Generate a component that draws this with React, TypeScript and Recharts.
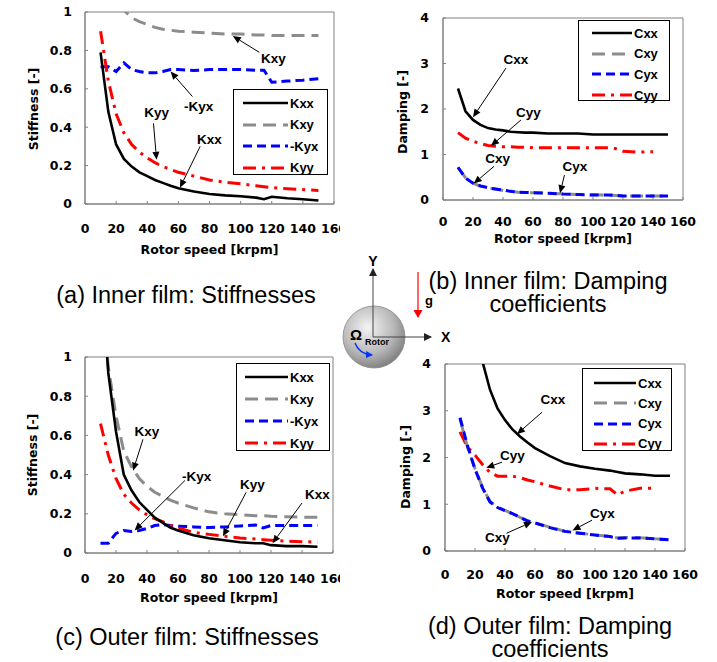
import React from 'react';
import { LineChart, Line, XAxis, YAxis, ReferenceArea, ReferenceLine, ReferenceDot, Legend } from 'recharts';

// rotor speed [krpm], shared by every panel
const speeds = [10, 15, 20, 25, 30, 35, 40, 45, 50, 55, 60, 70, 80, 90, 100, 110, 115, 120, 130, 140, 150];
const xTicks = [0, 20, 40, 60, 80, 100, 120, 140, 160];
const stiffTicks = [0, 0.2, 0.4, 0.6, 0.8, 1];
const dampTicks = [0, 1, 2, 3, 4];

// (a) inner film stiffnesses
const innerKxx = [0.79, 0.48, 0.31, 0.235, 0.195, 0.165, 0.145, 0.125, 0.11, 0.095, 0.082, 0.065, 0.052, 0.045, 0.04, 0.033, 0.025, 0.038, 0.03, 0.025, 0.018];
const innerKxy = [1.22, 1.13, 1.06, 1.01, 0.97, 0.95, 0.935, 0.92, 0.91, 0.905, 0.9, 0.895, 0.89, 0.885, 0.885, 0.88, 0.88, 0.878, 0.878, 0.878, 0.878];
const innerNegKyx = [0.715, 0.715, 0.69, 0.735, 0.7, 0.69, 0.683, 0.683, 0.69, 0.7, 0.7, 0.695, 0.7, 0.7, 0.7, 0.697, 0.697, 0.634, 0.64, 0.645, 0.653];
const innerKyy = [0.9, 0.64, 0.47, 0.37, 0.31, 0.27, 0.24, 0.215, 0.195, 0.18, 0.165, 0.145, 0.125, 0.113, 0.105, 0.095, 0.09, 0.085, 0.08, 0.075, 0.07];

// (b) inner film damping
const innerCxx = [2.45, 1.95, 1.76, 1.65, 1.58, 1.55, 1.53, 1.5, 1.49, 1.48, 1.48, 1.46, 1.46, 1.46, 1.44, 1.44, 1.44, 1.44, 1.44, 1.44, 1.44];
const innerCxy = [0.71, 0.49, 0.37, 0.3, 0.27, 0.24, 0.21, 0.19, 0.17, 0.165, 0.16, 0.15, 0.13, 0.12, 0.115, 0.11, 0.1, 0.09, 0.09, 0.09, 0.09];
const innerCyx = [0.72, 0.48, 0.37, 0.31, 0.27, 0.24, 0.22, 0.19, 0.17, 0.165, 0.16, 0.15, 0.13, 0.12, 0.11, 0.11, 0.1, 0.09, 0.09, 0.09, 0.09];
const innerCyy = [1.48, 1.36, 1.29, 1.24, 1.2, 1.18, 1.17, 1.17, 1.16, 1.16, 1.15, 1.15, 1.15, 1.15, 1.15, 1.15, 1.13, 1.07, 1.05, 1.06, null];

// (c) outer film stiffnesses
const outerKxx = [1.5, 0.92, 0.62, 0.4, 0.32, 0.26, 0.22, 0.18, 0.155, 0.13, 0.115, 0.09, 0.075, 0.065, 0.055, 0.05, 0.05, 0.04, 0.035, 0.035, 0.032];
const outerKxy = [1.4, 0.95, 0.7, 0.52, 0.44, 0.38, 0.34, 0.31, 0.29, 0.27, 0.255, 0.23, 0.21, 0.2, 0.195, 0.19, 0.19, 0.187, 0.185, 0.183, 0.182];
const outerNegKyx = [0.05, 0.05, 0.1, 0.115, 0.11, 0.115, 0.125, 0.14, 0.145, 0.14, 0.137, 0.133, 0.13, 0.133, 0.138, 0.143, 0.128, 0.14, 0.14, 0.14, 0.14];
const outerKyy = [0.66, 0.5, 0.38, 0.3, 0.255, 0.22, 0.195, 0.175, 0.16, 0.14, 0.128, 0.105, 0.095, 0.085, 0.077, 0.071, 0.068, 0.065, 0.06, 0.058, 0.055];

// (d) outer film damping
const outerCxx = [6.0, 5.2, 4.6, 4.05, 3.45, 3.05, 2.8, 2.6, 2.45, 2.32, 2.2, 2.03, 1.88, 1.81, 1.76, 1.72, 1.69, 1.66, 1.64, 1.61, 1.61];
const outerCxy = [2.83, 2.22, 1.76, 1.36, 1.06, 0.94, 0.87, 0.8, 0.72, 0.65, 0.6, 0.51, 0.42, 0.38, 0.345, 0.31, 0.28, 0.29, 0.285, 0.26, 0.245];
const outerCyx = [2.85, 2.25, 1.75, 1.35, 1.05, 0.93, 0.86, 0.8, 0.72, 0.64, 0.6, 0.5, 0.42, 0.38, 0.34, 0.31, 0.27, 0.28, 0.28, 0.26, 0.24];
const outerCyy = [2.55, 2.22, 2.05, 1.85, 1.68, 1.6, 1.6, 1.6, 1.57, 1.52, 1.48, 1.39, 1.31, 1.31, 1.34, 1.33, 1.2, 1.28, 1.34, 1.34, null];

type Note = { text: string; tx: number; ty: number; x1: number; y1: number; x2: number; y2: number };

const innerStiffNotes: Note[] = [
  { text: 'Kxy', tx: 121, ty: 0.76, x1: 112, y1: 0.79, x2: 95, y2: 0.875 },
  { text: '-Kyx', tx: 73, ty: 0.51, x1: 69, y1: 0.56, x2: 55, y2: 0.69 },
  { text: 'Kyy', tx: 46, ty: 0.475, x1: 44, y1: 0.42, x2: 46, y2: 0.23 },
  { text: 'Kxx', tx: 80, ty: 0.335, x1: 74, y1: 0.3, x2: 61, y2: 0.085 },
];
const innerDampNotes: Note[] = [
  { text: 'Cxx', tx: 48.6, ty: 3.08, x1: 42, y1: 2.9, x2: 20, y2: 1.82 },
  { text: 'Cyy', tx: 57, ty: 1.93, x1: 52, y1: 1.76, x2: 32, y2: 1.19 },
  { text: 'Cxy', tx: 36.5, ty: 0.92, x1: 34, y1: 0.74, x2: 20.5, y2: 0.36 },
  { text: 'Cyx', tx: 88, ty: 0.73, x1: 81, y1: 0.55, x2: 78, y2: 0.15 },
];
const outerStiffNotes: Note[] = [
  { text: 'Kxy', tx: 40, ty: 0.62, x1: 37.4, y1: 0.58, x2: 31, y2: 0.42 },
  { text: '-Kyx', tx: 72, ty: 0.39, x1: 64.5, y1: 0.37, x2: 32, y2: 0.115 },
  { text: 'Kyy', tx: 108, ty: 0.35, x1: 104, y1: 0.31, x2: 89, y2: 0.085 },
  { text: 'Kxx', tx: 150, ty: 0.3, x1: 140, y1: 0.255, x2: 121, y2: 0.05 },
];
const outerDampNotes: Note[] = [
  { text: 'Cxx', tx: 72, ty: 3.23, x1: 64.7, y1: 2.97, x2: 48, y2: 2.5 },
  { text: 'Cyy', tx: 45, ty: 2.05, x1: 38, y1: 1.9, x2: 27.5, y2: 1.78 },
  { text: 'Cyx', tx: 105, ty: 0.81, x1: 98, y1: 0.66, x2: 85, y2: 0.44 },
  { text: 'Cxy', tx: 35, ty: 0.28, x1: 41, y1: 0.38, x2: 58, y2: 0.62 },
];

const LINE_STYLES: Record<string, { color: string; dash?: string; width: number }> = {
  xx: { color: '#000000', width: 2.6 },
  xy: { color: '#8c8c8c', dash: '13 7', width: 3 },
  yx: { color: '#0000ff', dash: '9 5', width: 3 },
  yy: { color: '#ff0000', dash: '13 6 3 6', width: 3 },
};

const buildRows = (cols: Record<string, (number | null)[]>) =>
  speeds.map((s, i) => {
    const row: any = { speed: s };
    Object.keys(cols).forEach((k) => (row[k] = cols[k][i]));
    return row;
  });

const tickFont = { fontFamily: '"DejaVu Sans", sans-serif', fontWeight: 700, fontSize: 12.5, fill: '#000' };
const labelFamily = '"Liberation Sans", Arial, sans-serif';

const arrowShape = (p: any) => {
  const { x1, y1, x2, y2 } = p;
  const a = Math.atan2(y2 - y1, x2 - x1);
  const L = 8;
  const W = 3.5;
  const bx = x2 - L * Math.cos(a);
  const by = y2 - L * Math.sin(a);
  const pts = `${x2},${y2} ${bx - W * Math.sin(a)},${by + W * Math.cos(a)} ${bx + W * Math.sin(a)},${by - W * Math.cos(a)}`;
  return (
    <g>
      <line x1={x1} y1={y1} x2={bx} y2={by} stroke="#000" strokeWidth={1} />
      <polygon points={pts} fill="#000" />
    </g>
  );
};

type LegendCfg = { left: number; top: number; width: number; height: number; lineStart: number; lineW: number; first: number; row: number };
type Item = { key: string; name: string; style: string };

const LegendBox = ({ cfg, items }: { cfg: LegendCfg; items: Item[] }) => (
  <div style={{ position: 'relative', boxSizing: 'border-box', width: cfg.width, height: cfg.height, border: '1px solid #000', background: '#fff' }}>
    {items.map((it, i) => {
      const st = LINE_STYLES[it.style];
      return (
        <div key={it.key} style={{ position: 'absolute', left: cfg.lineStart, top: cfg.first + i * cfg.row - 9, height: 18, display: 'flex', alignItems: 'center', whiteSpace: 'nowrap' }}>
          <svg width={cfg.lineW} height={8} style={{ display: 'block' }}>
            <line x1={0} y1={4} x2={cfg.lineW} y2={4} stroke={st.color} strokeWidth={st.width} strokeDasharray={st.dash} />
          </svg>
          <span style={{ marginLeft: 2, fontFamily: labelFamily, fontWeight: 700, fontSize: 13, color: '#000' }}>{it.name}</span>
        </div>
      );
    })}
  </div>
);

type PanelProps = {
  left: number; top: number; boxW: number; boxH: number; chartW: number;
  margin: { top: number; right: number; left: number; bottom: number };
  plotH: number; yW: number; xH: number;
  xTickMargin: number; yTickMargin: number;
  xTitleDy: number; yTitle: string; yTitleX: number; yTitleY: number;
  yMax: number; yTicks: number[];
  rows: any[]; draw: Item[]; legendItems: Item[]; notes: Note[]; legend: LegendCfg;
};

const Panel = (p: PanelProps) => {
  const chartH = p.margin.top + p.plotH + p.xH + p.margin.bottom;
  return (
    <div style={{ position: 'absolute', left: p.left, top: p.top, width: p.boxW, height: p.boxH, overflow: 'hidden' }}>
      <LineChart width={p.chartW} height={chartH} data={p.rows} margin={p.margin}>
        <XAxis
          dataKey="speed"
          type="number"
          domain={[0, 160]}
          ticks={xTicks}
          interval={0}
          height={p.xH}
          tick={tickFont}
          tickSize={-3}
          tickMargin={p.xTickMargin}
          axisLine={{ stroke: '#808080' }}
          tickLine={{ stroke: '#808080' }}
          label={{
            value: 'Rotor speed [krpm]',
            content: (lp: any) => {
              const vb = lp.viewBox || { x: p.yW, y: p.margin.top + p.plotH, width: p.chartW - p.yW - p.margin.right };
              return (
                <text x={vb.x + vb.width / 2} y={vb.y + p.xTitleDy} textAnchor="middle" style={{ ...tickFont }}>
                  Rotor speed  [krpm]
                </text>
              );
            },
          }}
        />
        <YAxis
          type="number"
          domain={[0, p.yMax]}
          ticks={p.yTicks}
          interval={0}
          width={p.yW}
          allowDataOverflow
          tick={tickFont}
          tickSize={-3}
          tickMargin={p.yTickMargin}
          axisLine={{ stroke: '#808080' }}
          tickLine={{ stroke: '#808080' }}
          label={{
            value: p.yTitle,
            content: () => (
              <text
                x={p.yTitleX}
                y={p.yTitleY}
                textAnchor="middle"
                dominantBaseline="central"
                transform={`rotate(-90, ${p.yTitleX}, ${p.yTitleY})`}
                style={{ ...tickFont }}
              >
                {p.yTitle}
              </text>
            ),
          }}
        />
        <ReferenceArea x1={0} x2={160} y1={0} y2={p.yMax} fill="none" fillOpacity={0} stroke="#808080" strokeWidth={1} />
        {p.draw.map((s) => {
          const st = LINE_STYLES[s.style];
          return (
            <Line
              key={s.key}
              type="linear"
              dataKey={s.key}
              name={s.name}
              stroke={st.color}
              strokeWidth={st.width}
              strokeDasharray={st.dash}
              dot={false}
              activeDot={false}
              isAnimationActive={false}
            />
          );
        })}
        {p.notes.map((n, i) => (
          <ReferenceLine
            key={`a${i}`}
            segment={[{ x: n.x1, y: n.y1 }, { x: n.x2, y: n.y2 }]}
            ifOverflow="visible"
            shape={arrowShape}
          />
        ))}
        {p.notes.map((n, i) => (
          <ReferenceDot
            key={`t${i}`}
            x={n.tx}
            y={n.ty}
            r={0}
            ifOverflow="visible"
            shape={(dp: any) => (
              <text x={dp.cx} y={dp.cy} textAnchor="middle" dominantBaseline="central" fontFamily={labelFamily} fontWeight={700} fontSize={13.5} fill="#000">
                {n.text}
              </text>
            )}
          />
        ))}
        <Legend
          layout="vertical"
          align="center"
          verticalAlign="middle"
          wrapperStyle={{ left: p.legend.left, top: p.legend.top, width: p.legend.width, height: p.legend.height }}
          content={() => <LegendBox cfg={p.legend} items={p.legendItems} />}
        />
      </LineChart>
    </div>
  );
};

const stiffItems: Item[] = [
  { key: 'Kxx', name: 'Kxx', style: 'xx' },
  { key: 'Kxy', name: 'Kxy', style: 'xy' },
  { key: 'NegKyx', name: '-Kyx', style: 'yx' },
  { key: 'Kyy', name: 'Kyy', style: 'yy' },
];
const stiffDraw: Item[] = [stiffItems[1], stiffItems[2], stiffItems[3], stiffItems[0]];
const dampItems: Item[] = [
  { key: 'Cxx', name: 'Cxx', style: 'xx' },
  { key: 'Cxy', name: 'Cxy', style: 'xy' },
  { key: 'Cyx', name: 'Cyx', style: 'yx' },
  { key: 'Cyy', name: 'Cyy', style: 'yy' },
];
const dampDraw: Item[] = [dampItems[3], dampItems[1], dampItems[2], dampItems[0]];

const captionStyle = { fontFamily: labelFamily, fontSize: 23.5, fill: '#000' };
const sketchFont = { fontFamily: labelFamily, fontWeight: 700, fill: '#000' };

const Overlay = () => (
  <svg width={717} height={662} style={{ position: 'absolute', left: 0, top: 0, pointerEvents: 'none' }}>
    <defs>
      <radialGradient id="rotorGrad" cx="0.4" cy="0.35" r="0.7">
        <stop offset="0" stopColor="#f4f4f4" />
        <stop offset="0.6" stopColor="#b8b8b8" />
        <stop offset="1" stopColor="#7a7a7a" />
      </radialGradient>
      <marker id="headDark" markerWidth="8" markerHeight="8" refX="7" refY="4" orient="auto" markerUnits="userSpaceOnUse">
        <path d="M0,0 L8,4 L0,8 z" fill="#222" />
      </marker>
      <marker id="headRed" markerWidth="8" markerHeight="9" refX="7" refY="4.5" orient="auto" markerUnits="userSpaceOnUse">
        <path d="M0,0 L8,4.5 L0,9 z" fill="#ff0000" />
      </marker>
      <marker id="headBlue" markerWidth="7" markerHeight="7" refX="6" refY="3.5" orient="auto" markerUnits="userSpaceOnUse">
        <path d="M0,0 L7,3.5 L0,7 z" fill="#0033ff" />
      </marker>
    </defs>
    {/* captions */}
    <text x={186} y={303} textAnchor="middle" style={captionStyle}>(a) Inner film: Stiffnesses</text>
    <text x={548} y={289} textAnchor="middle" style={captionStyle}>(b) Inner film: Damping</text>
    <text x={548} y={312} textAnchor="middle" style={captionStyle}>coefficients</text>
    <text x={187} y={645} textAnchor="middle" style={captionStyle}>(c) Outer film: Stiffnesses</text>
    <text x={550} y={634} textAnchor="middle" style={captionStyle}>(d) Outer film: Damping</text>
    <text x={550} y={657} textAnchor="middle" style={captionStyle}>coefficients</text>
    {/* rotor sketch */}
    <circle cx={374} cy={337} r={31} fill="url(#rotorGrad)" stroke="#8a8a8a" strokeWidth={0.8} />
    <line x1={373} y1={337} x2={373} y2={269} stroke="#444" strokeWidth={1} markerEnd="url(#headDark)" />
    <line x1={373} y1={337} x2={431} y2={337} stroke="#444" strokeWidth={1} markerEnd="url(#headDark)" />
    <text x={373} y={266} textAnchor="middle" fontSize={14} style={sketchFont}>Y</text>
    <text x={441} y={342} fontSize={14} style={sketchFont}>X</text>
    <line x1={418} y1={272} x2={418} y2={317} stroke="#ff0000" strokeWidth={1.2} markerEnd="url(#headRed)" />
    <text x={425} y={305} fontSize={13} style={sketchFont}>g</text>
    <text x={350} y={340} fontSize={15} style={sketchFont}>Ω</text>
    <text x={365} y={345} fontSize={9} style={sketchFont}>Rotor</text>
    <path d="M 355 343 Q 359 354 372 355" fill="none" stroke="#0033ff" strokeWidth={1.5} markerEnd="url(#headBlue)" />
  </svg>
);

export default function App() {
  return (
    <div style={{ position: 'absolute', left: 0, top: 0, width: 717, height: 662, background: '#fff', overflow: 'hidden' }}>
      <Panel
        left={0} top={0} boxW={340} boxH={262} chartW={345}
        margin={{ top: 12, right: 11, left: 0, bottom: 0 }} plotH={192} yW={85} xH={58}
        xTickMargin={23} yTickMargin={16} xTitleDy={49.5}
        yTitle="Stiffness [-]" yTitleX={33} yTitleY={109}
        yMax={1} yTicks={stiffTicks}
        rows={buildRows({ Kxx: innerKxx, Kxy: innerKxy, NegKyx: innerNegKyx, Kyy: innerKyy })}
        draw={stiffDraw} legendItems={stiffItems} notes={innerStiffNotes}
        legend={{ left: 233, top: 89, width: 95, height: 86, lineStart: 9, lineW: 45, first: 13, row: 21.5 }}
      />
      <Panel
        left={360} top={0} boxW={357} boxH={255} chartW={357}
        margin={{ top: 18, right: 34, left: 0, bottom: 0 }} plotH={182} yW={83} xH={55}
        xTickMargin={20} yTickMargin={17} xTitleDy={42.5}
        yTitle="Damping [-]" yTitleX={42} yTitleY={112}
        yMax={4} yTicks={dampTicks}
        rows={buildRows({ Cxx: innerCxx, Cxy: innerCxy, Cyx: innerCyx, Cyy: innerCyy })}
        draw={dampDraw} legendItems={dampItems} notes={innerDampNotes}
        legend={{ left: 218, top: 20, width: 92, height: 81, lineStart: 13, lineW: 40, first: 12, row: 20.7 }}
      />
      <Panel
        left={0} top={340} boxW={340} boxH={269} chartW={345}
        margin={{ top: 17, right: 12, left: 0, bottom: 0 }} plotH={196} yW={85} xH={56}
        xTickMargin={24} yTickMargin={16} xTitleDy={48.5}
        yTitle="Stiffness [-]" yTitleX={32} yTitleY={115}
        yMax={1} yTicks={stiffTicks}
        rows={buildRows({ Kxx: outerKxx, Kxy: outerKxy, NegKyx: outerNegKyx, Kyy: outerKyy })}
        draw={stiffDraw} legendItems={stiffItems} notes={outerStiffNotes}
        legend={{ left: 236, top: 23, width: 94, height: 88, lineStart: 8, lineW: 43, first: 13, row: 22 }}
      />
      <Panel
        left={360} top={340} boxW={357} boxH={266} chartW={357}
        margin={{ top: 24, right: 32, left: 0, bottom: 0 }} plotH={187} yW={85} xH={55}
        xTickMargin={22} yTickMargin={17} xTitleDy={46.5}
        yTitle="Damping [-]" yTitleX={45} yTitleY={127}
        yMax={4} yTicks={dampTicks}
        rows={buildRows({ Cxx: outerCxx, Cxy: outerCxy, Cyx: outerCyx, Cyy: outerCyy })}
        draw={dampDraw} legendItems={dampItems} notes={outerDampNotes}
        legend={{ left: 222, top: 28, width: 90, height: 83, lineStart: 11, lineW: 42, first: 14, row: 20.3 }}
      />
      <Overlay />
    </div>
  );
}
